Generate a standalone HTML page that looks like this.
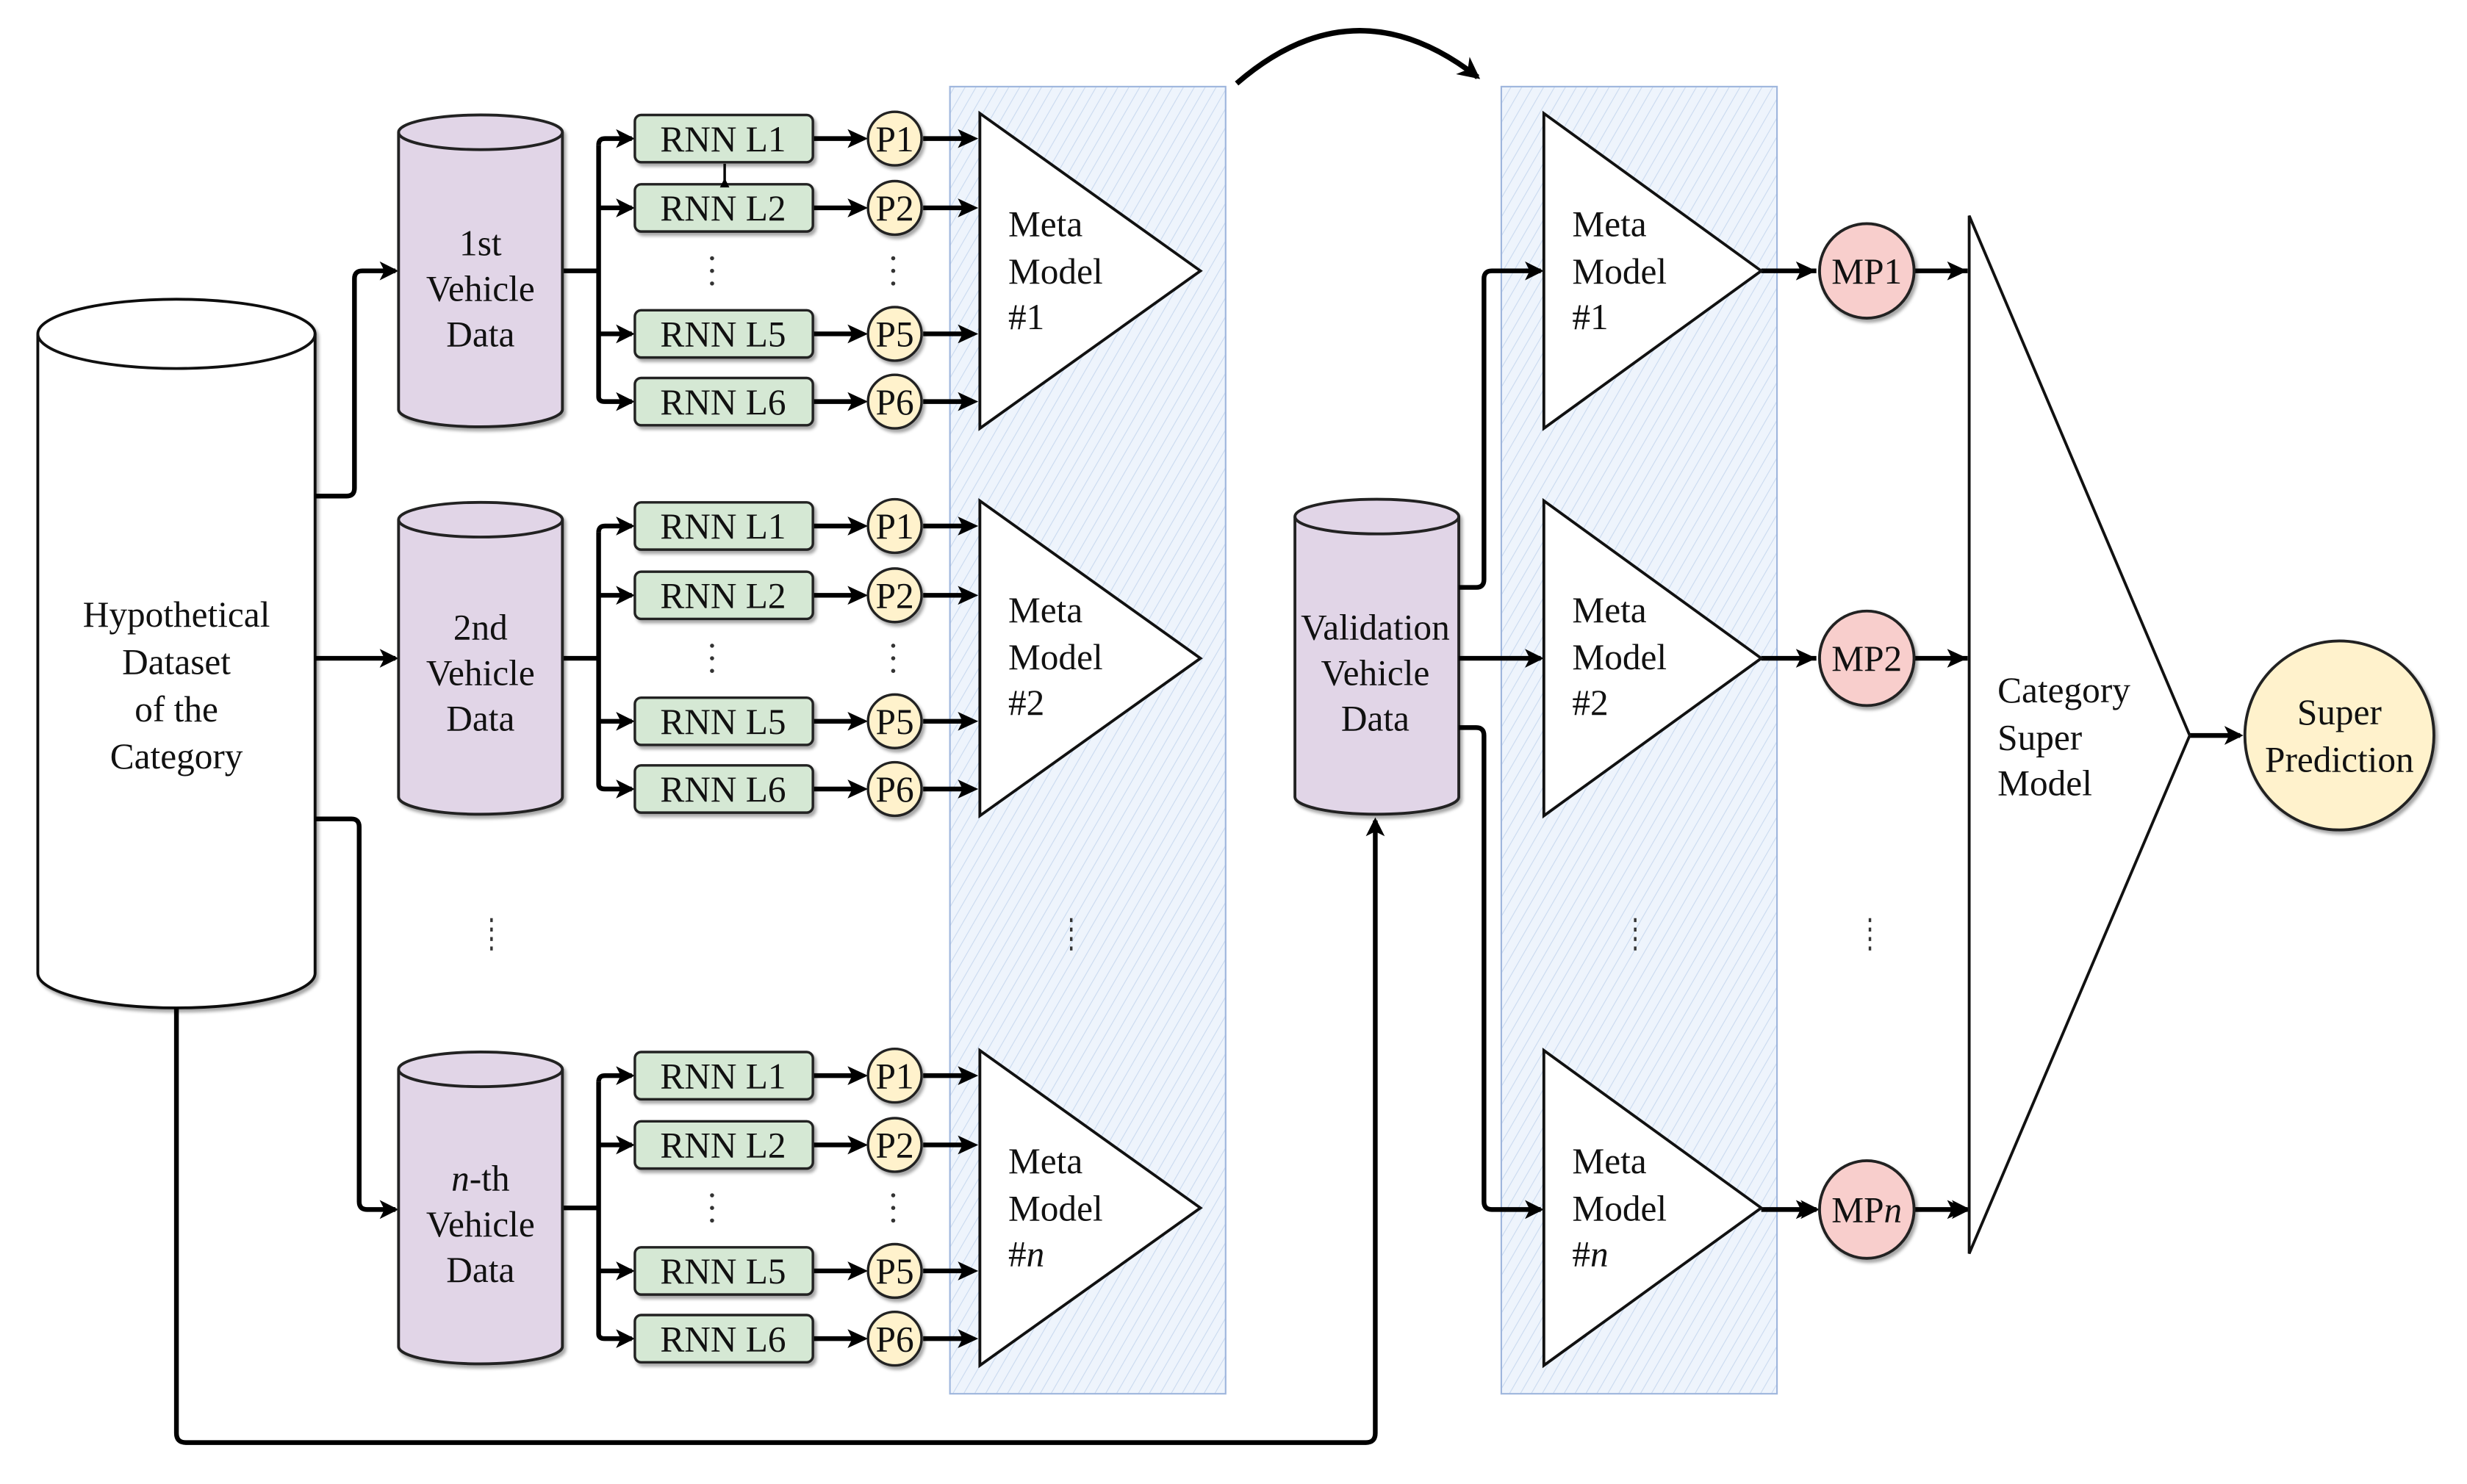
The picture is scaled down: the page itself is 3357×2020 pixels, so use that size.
<!DOCTYPE html>
<html><head><meta charset="utf-8"><style>
html,body{margin:0;padding:0;background:#fff;}
svg{display:block;}
svg text{font-family:"Liberation Serif","Times New Roman",Times,"DejaVu Serif",serif !important;}
</style></head><body>
<svg xmlns="http://www.w3.org/2000/svg" width="3357" height="2020" viewBox="0 0 1566 942.3" preserveAspectRatio="none" font-family="Liberation Serif, Times New Roman, serif" fill="#111">
<defs>
<marker id="ar" markerWidth="12" markerHeight="12" refX="10" refY="6" orient="auto" markerUnits="userSpaceOnUse" viewBox="0 0 12 12">
<path d="M0,0 L12,6 L0,12 L3,6 Z" fill="#000"/>
</marker>
<marker id="ar2" markerWidth="14" markerHeight="14" refX="12" refY="7" orient="auto" markerUnits="userSpaceOnUse" viewBox="0 0 14 14">
<path d="M0,0 L14,7 L0,14 L4,7 Z" fill="#000"/>
</marker>
<pattern id="hatch" width="6" height="6" patternUnits="userSpaceOnUse" patternTransform="rotate(30)">
<rect width="6" height="6" fill="#eef4fc"/>
<line x1="0" y1="0" x2="0" y2="6" stroke="#c9d9ef" stroke-width="1"/>
</pattern>
<filter id="sh" x="-10%" y="-10%" width="130%" height="140%"><feDropShadow dx="1.5" dy="2" stdDeviation="1" flood-opacity="0.35"/></filter>
<g id="row">
  <g fill="none" stroke="#000" stroke-width="3">
    <path d="M357,0 H380"/>
    <path d="M380,-80 Q380,-84 384,-84 H401" marker-end="url(#ar)"/>
    <path d="M380,-80 V80 Q380,83 384,83 H401" marker-end="url(#ar)"/>
    <path d="M380,-40 H401" marker-end="url(#ar)"/>
    <path d="M380,40 H401" marker-end="url(#ar)"/>
    <path d="M516,-84 H542 M516,-40 H542 M516,40 H542 M516,83 H542" />
    <path d="M586,-84 H612 M586,-40 H612 M586,40 H612 M586,83 H612"/>
  </g>
  <g fill="#000">
    <path d="M538,-90 L551,-84 L538,-78 L541,-84 Z M538,-46 L551,-40 L538,-34 L541,-40 Z M538,34 L551,40 L538,46 L541,40 Z M538,77 L551,83 L538,89 L541,83 Z"/>
    <path d="M608,-90 L621,-84 L608,-78 L611,-84 Z M608,-46 L621,-40 L608,-34 L611,-40 Z M608,34 L621,40 L608,46 L611,40 Z M608,77 L621,83 L608,89 L611,83 Z"/>
  </g>
  <g filter="url(#sh)" fill="#d5e8d4" stroke="#222" stroke-width="1.6">
    <rect x="403" y="-99" width="113" height="30" rx="4"/>
    <rect x="403" y="-55" width="113" height="30" rx="4"/>
    <rect x="403" y="25" width="113" height="30" rx="4"/>
    <rect x="403" y="68" width="113" height="30" rx="4"/>
  </g>
  <g filter="url(#sh)" fill="#fff2cc" stroke="#222" stroke-width="1.6">
    <circle cx="568" cy="-84" r="17"/><circle cx="568" cy="-40" r="17"/>
    <circle cx="568" cy="40" r="17"/><circle cx="568" cy="83" r="17"/>
  </g>
  <g font-size="23" text-anchor="middle">
    <text x="459" y="-76">RNN L1</text><text x="459" y="-32">RNN L2</text>
    <text x="459" y="48">RNN L5</text><text x="459" y="91">RNN L6</text>
    <text x="568" y="-76">P1</text><text x="568" y="-32">P2</text>
    <text x="568" y="48">P5</text><text x="568" y="91">P6</text>
  </g>
  <g fill="#333"><circle cx="452" cy="-8" r="1.3"/><circle cx="452" cy="0" r="1.3"/><circle cx="452" cy="8" r="1.3"/>
  <circle cx="567" cy="-8" r="1.3"/><circle cx="567" cy="0" r="1.3"/><circle cx="567" cy="8" r="1.3"/></g>
  <path d="M253,-88 A52,11 0 0 1 357,-88 V88 A52,11 0 0 1 253,88 Z" fill="#e1d5e7" stroke="#222" stroke-width="1.8" filter="url(#sh)"/>
  <path d="M253,-88 A52,11 0 0 0 357,-88" fill="none" stroke="#222" stroke-width="1.8"/>
</g>
<g id="meta">
  <polygon points="0,-100 0,100 140,0" fill="#fff" stroke="#111" stroke-width="1.8"/>
</g>
</defs>

<rect x="603" y="55" width="175" height="830" fill="url(#hatch)" stroke="#9fb6dd" stroke-width="1"/>
<rect x="953" y="55" width="175" height="830" fill="url(#hatch)" stroke="#9fb6dd" stroke-width="1"/>

<path d="M785,53 Q860,-12 938,49" fill="none" stroke="#000" stroke-width="3.4" marker-end="url(#ar2)"/>

<path d="M24,212 A88,22 0 0 1 200,212 V618 A88,22 0 0 1 24,618 Z" fill="#fff" stroke="#111" stroke-width="1.8" filter="url(#sh)"/>
<path d="M24,212 A88,22 0 0 0 200,212" fill="none" stroke="#111" stroke-width="1.8"/>
<g font-size="23" text-anchor="middle">
<text x="112" y="398">Hypothetical</text><text x="112" y="428">Dataset</text><text x="112" y="458">of the</text><text x="112" y="488">Category</text>
</g>

<g fill="none" stroke="#000" stroke-width="3">
<path d="M200,315 H220 Q225,315 225,310 V177 Q225,172 230,172 H251" marker-end="url(#ar)"/>
<path d="M200,418 H251" marker-end="url(#ar)"/>
<path d="M200,520 H223 Q228,520 228,525 V763 Q228,768 233,768 H251" marker-end="url(#ar)"/>
<path d="M112,640 V910 Q112,916 118,916 H867 Q873,916 873,910 V521" marker-end="url(#ar)"/>
</g>

<use href="#row" transform="translate(0,172)"/>
<use href="#row" transform="translate(0,418)"/>
<use href="#row" transform="translate(0,767)"/>
<path d="M460,104 V118" stroke="#000" stroke-width="1.6"/>
<path d="M457,119 L460,113 L463,119 Z" fill="#000"/>

<g font-size="23" text-anchor="middle">
<text x="305" y="162">1st</text><text x="305" y="191">Vehicle</text><text x="305" y="220">Data</text>
<text x="305" y="406">2nd</text><text x="305" y="435">Vehicle</text><text x="305" y="464">Data</text>
<text x="305" y="756"><tspan font-style="italic">n</tspan>-th</text><text x="305" y="785">Vehicle</text><text x="305" y="814">Data</text>
</g>

<use href="#meta" transform="translate(622,172)"/>
<use href="#meta" transform="translate(622,418)"/>
<use href="#meta" transform="translate(622,767)"/>
<g font-size="23">
<text x="640" y="150">Meta</text><text x="640" y="180">Model</text><text x="640" y="209">#1</text>
<text x="640" y="395">Meta</text><text x="640" y="425">Model</text><text x="640" y="454">#2</text>
<text x="640" y="745">Meta</text><text x="640" y="775">Model</text><text x="640" y="804">#<tspan font-style="italic">n</tspan></text>
</g>

<path d="M822,328 A52,11 0 0 1 926,328 V506 A52,11 0 0 1 822,506 Z" fill="#e1d5e7" stroke="#222" stroke-width="1.8" filter="url(#sh)"/>
<path d="M822,328 A52,11 0 0 0 926,328" fill="none" stroke="#222" stroke-width="1.8"/>
<g font-size="23" text-anchor="middle">
<text x="873" y="406">Validation</text><text x="873" y="435">Vehicle</text><text x="873" y="464">Data</text>
</g>
<g fill="none" stroke="#000" stroke-width="3">
<path d="M926,373 H937 Q942,373 942,368 V177 Q942,172 947,172 H978" marker-end="url(#ar)"/>
<path d="M926,418 H978" marker-end="url(#ar)"/>
<path d="M926,462 H937 Q942,462 942,467 V763 Q942,768 947,768 H978" marker-end="url(#ar)"/>
<path d="M1118,172 H1153 M1118,418 H1153 M1118,768 H1153" marker-end="url(#ar)"/>
<path d="M1215,172 H1249 M1215,418 H1249 M1215,768 H1249" marker-end="url(#ar)"/>
<path d="M1390,467 H1422" marker-end="url(#ar)"/>
</g>
<g fill="#000">
<path d="M1140,166 L1153,172 L1140,178 L1143,172 Z M1140,412 L1153,418 L1140,424 L1143,418 Z M1140,762 L1153,768 L1140,774 L1143,768 Z"/>
<path d="M1236,166 L1249,172 L1236,178 L1239,172 Z M1236,412 L1249,418 L1236,424 L1239,418 Z M1236,762 L1249,768 L1236,774 L1239,768 Z"/>
</g>

<polygon points="980,72 980,272 1118,172" fill="#fff" stroke="#111" stroke-width="1.8"/>
<polygon points="980,318 980,518 1118,418" fill="#fff" stroke="#111" stroke-width="1.8"/>
<polygon points="980,667 980,867 1118,767" fill="#fff" stroke="#111" stroke-width="1.8"/>
<g font-size="23">
<text x="998" y="150">Meta</text><text x="998" y="180">Model</text><text x="998" y="209">#1</text>
<text x="998" y="395">Meta</text><text x="998" y="425">Model</text><text x="998" y="454">#2</text>
<text x="998" y="745">Meta</text><text x="998" y="775">Model</text><text x="998" y="804">#<tspan font-style="italic">n</tspan></text>
</g>

<g fill="#f8cecc" stroke="#222" stroke-width="1.8" filter="url(#sh)">
<circle cx="1185" cy="172" r="30"/><circle cx="1185" cy="418" r="30"/><ellipse cx="1185" cy="768" rx="30" ry="31"/>
</g>
<g font-size="23" text-anchor="middle">
<text x="1185" y="180">MP1</text><text x="1185" y="426">MP2</text><text x="1185" y="776">MP<tspan font-style="italic">n</tspan></text>
</g>

<polygon points="1250,137 1250,796 1390,467" fill="#fff" stroke="#111" stroke-width="1.8"/>
<g font-size="23">
<text x="1268" y="446">Category</text><text x="1268" y="476">Super</text><text x="1268" y="505">Model</text>
</g>
<circle cx="1485" cy="467" r="60" fill="#fff2cc" stroke="#222" stroke-width="1.8" filter="url(#sh)"/>
<g font-size="23" text-anchor="middle">
<text x="1485" y="460">Super</text><text x="1485" y="490">Prediction</text>
</g>

<g stroke="#333" stroke-width="1.6" stroke-dasharray="2.5,3.5">
<path d="M312,583 V607 M680,583 V607 M1038,583 V607 M1187,583 V607"/>
</g>
</svg>
</body></html>
